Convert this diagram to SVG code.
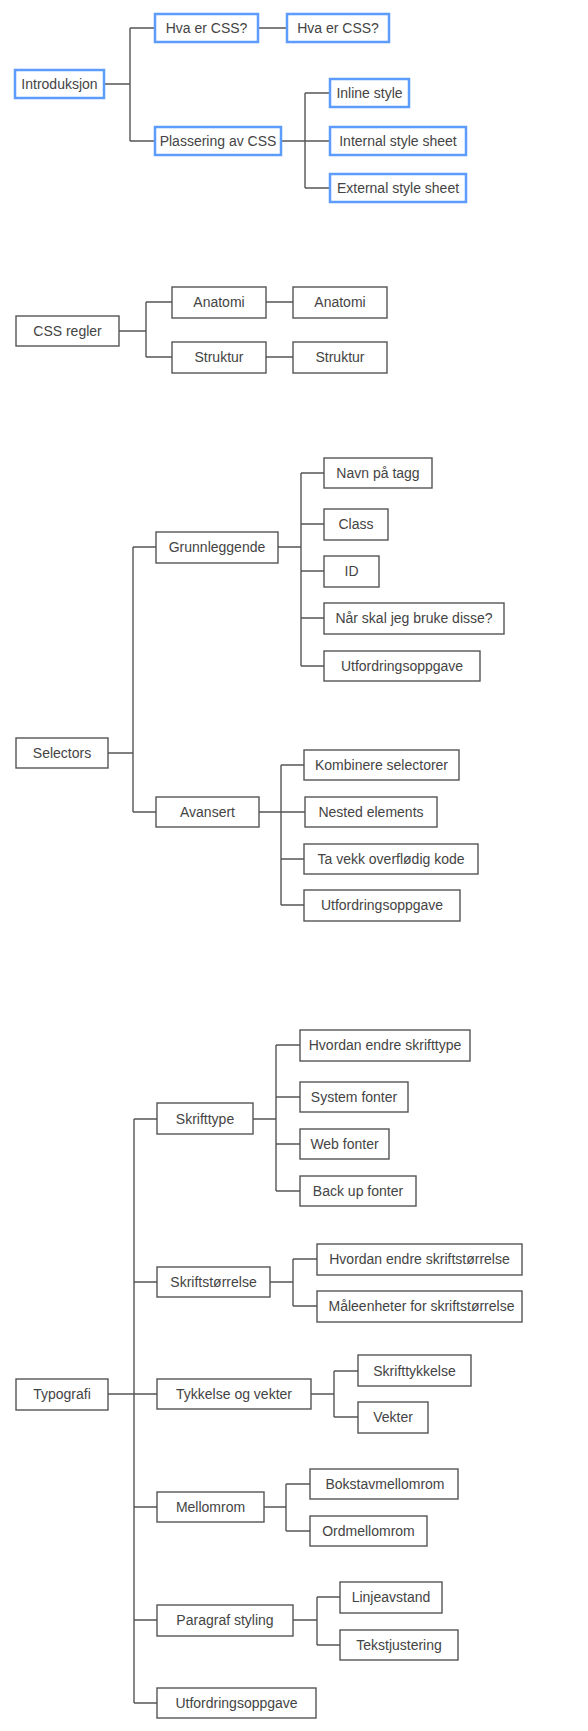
<svg xmlns="http://www.w3.org/2000/svg" width="588" height="1731" viewBox="0 0 588 1731">
<style>
rect{fill:#fff}
.b rect{stroke:#5c9cfa;stroke-width:2.5}
.n rect{stroke:#555;stroke-width:1.4}
text{font-family:"Liberation Sans",Arial,sans-serif;font-size:14px;fill:#444;text-anchor:middle}
#connectors path{fill:none;stroke:#555;stroke-width:1.4}
</style>
<rect x="0" y="0" width="588" height="1731" fill="#fff"/>
<g id="connectors">
<path d="M105 84H130M130 28V141M130 28H155M130 141H155M258 28H287M281 141H305M305 93V188M305 93H330M305 141H330M305 188H330"/>
<path d="M119 331H146M146 302V357M146 302H172M146 357H172M266 302H293M266 357H293"/>
<path d="M108 753H133M133 547V812M133 547H156M133 812H156M278 547H301M301 473V666M301 473H324M301 524H324M301 571H324M301 618H324M301 666H324M259 812H281M281 765V905M281 765H304M281 812H305M281 859H304M281 905H304"/>
<path d="M108 1394H134M134 1119V1703M134 1119H157M134 1282H157M134 1394H157M134 1507H157M134 1620H157M134 1703H157M253 1119H276M276 1045V1191M276 1045H300M276 1097H300M276 1144H300M276 1191H300M270 1282H293M293 1259V1306M293 1259H317M293 1306H317M311 1394H334M334 1371V1417M334 1371H358M334 1417H358M264 1507H286M286 1484V1531M286 1484H310M286 1531H310M293 1620H317M317 1597V1645M317 1597H340M317 1645H340"/>
</g>
<g id="introduksjon" class="b"><rect x="15" y="70" width="89" height="28"/><text x="59.5" y="89">Introduksjon</text></g>
<g id="hva1" class="b"><rect x="155" y="14" width="103" height="28"/><text x="206.5" y="33">Hva er CSS?</text></g>
<g id="hva2" class="b"><rect x="287" y="14" width="102" height="28"/><text x="338" y="33">Hva er CSS?</text></g>
<g id="plassering" class="b"><rect x="155" y="127" width="126" height="28"/><text x="218" y="146">Plassering av CSS</text></g>
<g id="inline" class="b"><rect x="330" y="79" width="79" height="28"/><text x="369.5" y="98">Inline style</text></g>
<g id="internal" class="b"><rect x="330" y="127" width="136" height="28"/><text x="398" y="146">Internal style sheet</text></g>
<g id="external" class="b"><rect x="330" y="174" width="136" height="28"/><text x="398" y="193">External style sheet</text></g>

<g id="cssregler" class="n"><rect x="16" y="316" width="103" height="30"/><text x="67.5" y="336">CSS regler</text></g>
<g id="anatomi1" class="n"><rect x="172" y="287" width="94" height="31"/><text x="219" y="307">Anatomi</text></g>
<g id="anatomi2" class="n"><rect x="293" y="287" width="94" height="31"/><text x="340" y="307">Anatomi</text></g>
<g id="struktur1" class="n"><rect x="172" y="342" width="94" height="31"/><text x="219" y="362">Struktur</text></g>
<g id="struktur2" class="n"><rect x="293" y="342" width="94" height="31"/><text x="340" y="362">Struktur</text></g>

<g id="selectors" class="n"><rect x="16" y="738" width="92" height="30"/><text x="62" y="758">Selectors</text></g>
<g id="grunnleggende" class="n"><rect x="156" y="532" width="122" height="31"/><text x="217" y="552">Grunnleggende</text></g>
<g id="navn" class="n"><rect x="324" y="458" width="108" height="30"/><text x="378" y="478">Navn på tagg</text></g>
<g id="class" class="n"><rect x="324" y="509" width="64" height="31"/><text x="356" y="529">Class</text></g>
<g id="idnode" class="n"><rect x="324" y="556" width="55" height="31"/><text x="351.5" y="576">ID</text></g>
<g id="naar" class="n"><rect x="324" y="603" width="180" height="31"/><text x="414" y="623">Når skal jeg bruke disse?</text></g>
<g id="utf1" class="n"><rect x="324" y="651" width="156" height="30"/><text x="402" y="671">Utfordringsoppgave</text></g>
<g id="avansert" class="n"><rect x="156" y="797" width="103" height="30"/><text x="207.5" y="817">Avansert</text></g>
<g id="kombinere" class="n"><rect x="304" y="750" width="155" height="30"/><text x="381.5" y="770">Kombinere selectorer</text></g>
<g id="nested" class="n"><rect x="305" y="797" width="132" height="30"/><text x="371" y="817">Nested elements</text></g>
<g id="tavekk" class="n"><rect x="304" y="844" width="174" height="30"/><text x="391" y="864">Ta vekk overflødig kode</text></g>
<g id="utf2" class="n"><rect x="304" y="890" width="156" height="31"/><text x="382" y="910">Utfordringsoppgave</text></g>

<g id="typografi" class="n"><rect x="16" y="1379" width="92" height="31"/><text x="62" y="1399">Typografi</text></g>
<g id="skrifttype" class="n"><rect x="157" y="1103" width="96" height="31"/><text x="205" y="1124">Skrifttype</text></g>
<g id="hvordan1" class="n"><rect x="300" y="1030" width="170" height="31"/><text x="385" y="1050">Hvordan endre skrifttype</text></g>
<g id="system" class="n"><rect x="300" y="1082" width="108" height="30"/><text x="354" y="1102">System fonter</text></g>
<g id="web" class="n"><rect x="300" y="1129" width="89" height="30"/><text x="344.5" y="1149">Web fonter</text></g>
<g id="backup" class="n"><rect x="300" y="1176" width="116" height="30"/><text x="358" y="1196">Back up fonter</text></g>
<g id="skriftstorrelse" class="n"><rect x="157" y="1267" width="113" height="30"/><text x="213.5" y="1287">Skriftstørrelse</text></g>
<g id="hvordan2" class="n"><rect x="317" y="1244" width="205" height="31"/><text x="419.5" y="1264">Hvordan endre skriftstørrelse</text></g>
<g id="maale" class="n"><rect x="317" y="1291" width="205" height="31"/><text x="421.5" y="1311">Måleenheter for skriftstørrelse</text></g>
<g id="tykkelse" class="n"><rect x="157" y="1379" width="154" height="30"/><text x="234" y="1399">Tykkelse og vekter</text></g>
<g id="skrifttykkelse" class="n"><rect x="358" y="1355" width="113" height="31"/><text x="414.5" y="1376">Skrifttykkelse</text></g>
<g id="vekter" class="n"><rect x="358" y="1402" width="70" height="31"/><text x="393" y="1422">Vekter</text></g>
<g id="mellomrom" class="n"><rect x="157" y="1492" width="107" height="30"/><text x="210.5" y="1512">Mellomrom</text></g>
<g id="bokstav" class="n"><rect x="310" y="1469" width="148" height="30"/><text x="385" y="1489">Bokstavmellomrom</text></g>
<g id="ord" class="n"><rect x="310" y="1516" width="117" height="30"/><text x="368.5" y="1536">Ordmellomrom</text></g>
<g id="paragraf" class="n"><rect x="157" y="1605" width="136" height="31"/><text x="225" y="1625">Paragraf styling</text></g>
<g id="linje" class="n"><rect x="340" y="1582" width="102" height="31"/><text x="391" y="1602">Linjeavstand</text></g>
<g id="tekst" class="n"><rect x="340" y="1630" width="118" height="30"/><text x="399" y="1650">Tekstjustering</text></g>
<g id="utf3" class="n"><rect x="157" y="1688" width="159" height="30"/><text x="236.5" y="1708">Utfordringsoppgave</text></g>
</svg>
